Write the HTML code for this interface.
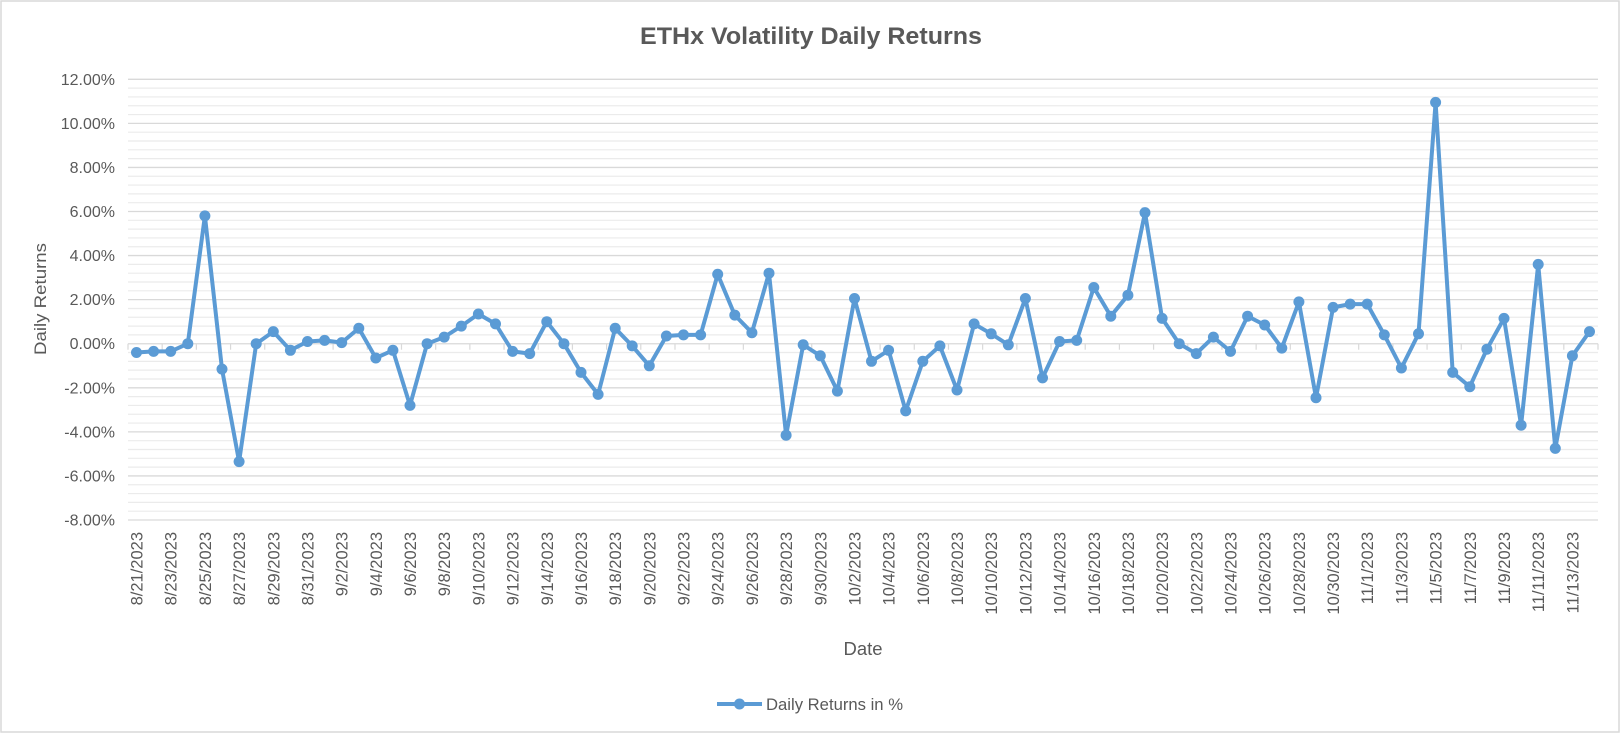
<!DOCTYPE html>
<html><head><meta charset="utf-8"><style>
html,body{margin:0;padding:0;background:#fff;}
svg{display:block;font-family:"Liberation Sans",sans-serif;}
</style></head><body>
<svg id="c" width="1622" height="735" viewBox="0 0 1622 735" xmlns="http://www.w3.org/2000/svg"></svg>
<script>
const vals=[-0.4,-0.35,-0.35,0.0,5.8,-1.15,-5.35,0.0,0.55,-0.3,0.1,0.15,0.05,0.7,-0.65,-0.3,-2.8,0.0,0.3,0.8,1.35,0.9,-0.35,-0.45,1.0,0.0,-1.3,-2.3,0.7,-0.1,-1.0,0.35,0.4,0.4,3.15,1.3,0.5,3.2,-4.15,-0.05,-0.55,-2.15,2.05,-0.8,-0.3,-3.05,-0.8,-0.1,-2.1,0.9,0.45,-0.05,2.05,-1.55,0.1,0.15,2.55,1.25,2.2,5.95,1.15,0.0,-0.45,0.3,-0.35,1.25,0.85,-0.2,1.9,-2.45,1.65,1.8,1.8,0.4,-1.1,0.45,10.95,-1.3,-1.95,-0.25,1.15,-3.7,3.6,-4.75,-0.55,0.55];
const L=128,R=1598,T=79.3,B=520,N=vals.length,cw=(R-L)/N;
const y=v=>T+(12-v)*(B-T)/20;
let s='<rect x="1" y="1" width="1618" height="731" fill="#fff" stroke="#d9d9d9" stroke-width="1.5"/>';
s+='<text x="811" y="44" text-anchor="middle" font-size="24" font-weight="bold" fill="#595959" textLength="342" lengthAdjust="spacingAndGlyphs">ETHx Volatility Daily Returns</text>';
for(let i=0;i<=50;i++){const v=12-i*0.4,yy=y(v);const major=i%5==0;
 if(!major) s+=`<line x1="${L}" x2="${R}" y1="${yy}" y2="${yy}" stroke="#ebebeb" stroke-width="1.2"/>`;}
for(let i=0;i<=10;i++){const v=12-i*2,yy=y(v);
 s+=`<line x1="${L}" x2="${R}" y1="${yy}" y2="${yy}" stroke="#d9d9d9" stroke-width="1.3"/>`;
 s+=`<text x="115" y="${yy+5.5}" text-anchor="end" font-size="16" fill="#595959">${v.toFixed(2)}%</text>`;}
const y0=y(0);
for(let k=0;k<=N;k+=2){const xx=L+k*cw;s+=`<line x1="${xx}" x2="${xx}" y1="${y0}" y2="${y0+6}" stroke="#d9d9d9" stroke-width="1.2"/>`;}
const start=new Date(2023,7,21);
for(let i=0;i<N;i+=2){const d=new Date(start.getTime()+i*86400000+3600000);
 const lab=(d.getMonth()+1)+'/'+d.getDate()+'/2023';const xx=L+(i+0.5)*cw;
 s+=`<text transform="translate(${xx+6},532) rotate(-90)" text-anchor="end" font-size="16.5" fill="#595959">${lab}</text>`;}
let pts=vals.map((v,i)=>`${(L+(i+0.5)*cw).toFixed(1)},${y(v).toFixed(1)}`).join(' ');
s+=`<polyline points="${pts}" fill="none" stroke="#5b9bd5" stroke-width="4" stroke-linejoin="round"/>`;
vals.forEach((v,i)=>{s+=`<circle cx="${(L+(i+0.5)*cw).toFixed(1)}" cy="${y(v).toFixed(1)}" r="5.5" fill="#5b9bd5"/>`;});
s+='<text transform="translate(46,299) rotate(-90)" text-anchor="middle" font-size="17" fill="#595959" textLength="112" lengthAdjust="spacingAndGlyphs">Daily Returns</text>';
s+='<text x="863" y="655" text-anchor="middle" font-size="18" fill="#595959" textLength="39" lengthAdjust="spacingAndGlyphs">Date</text>';
s+='<line x1="717" x2="762" y1="704" y2="704" stroke="#5b9bd5" stroke-width="4"/><circle cx="739.5" cy="704" r="5.5" fill="#5b9bd5"/>';
s+='<text x="766" y="710" font-size="17" fill="#595959" textLength="137" lengthAdjust="spacingAndGlyphs">Daily Returns in %</text>';
document.getElementById('c').innerHTML=s;
</script>
</body></html>
